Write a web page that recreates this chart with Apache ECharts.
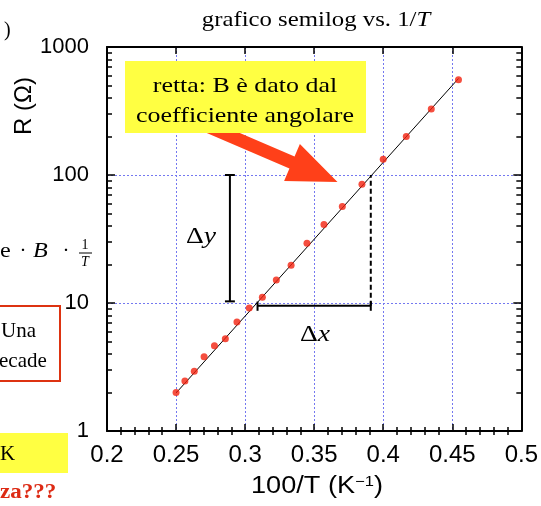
<!DOCTYPE html>
<html>
<head>
<meta charset="utf-8">
<script src="https://cdn.jsdelivr.net/npm/echarts@6/dist/echarts.min.js"></script>
<style>
  html, body { margin: 0; padding: 0; background: #fff; }
  #chart { width: 541px; height: 506px; }
</style>
</head>
<body>
<div id="chart"></div>
<script>
// Inverse temperature, 100/T (K^-1)
const invT = [0.25, 0.2564, 0.2632, 0.2703, 0.2778, 0.2857, 0.2941, 0.3030, 0.3125,
              0.3226, 0.3333, 0.3448, 0.3571, 0.3704, 0.3846, 0.4000, 0.4167, 0.4348, 0.4545];
// Resistance R (Ohm)
const resistance = [2.00, 2.46, 2.93, 3.81, 4.64, 5.26, 7.11, 9.14, 11.1,
                    15.1, 19.7, 29.3, 41.1, 56.7, 84.6, 133, 200, 328, 555];
// Straight-line fit on the semilog plot (end points)
const fitX = [0.25, 0.4545];
const fitY = [1.98, 567];
// Slope construction: delta-y bar, delta-x bar, dashed drop line
const dyX = 0.289, dyY = [10.3, 100];
const dxY = 9.5, dxX = [0.309, 0.391];
const dropX = 0.391, dropY = [9.5, 100];
// Axis ranges and ticks
const xMin = 0.2, xMax = 0.5, xStep = 0.05;
const xMinorTicks = [0.21,0.22,0.23,0.24,0.26,0.27,0.28,0.29,0.31,0.32,0.33,0.34,0.36,0.37,0.38,0.39,
                     0.41,0.42,0.43,0.44,0.46,0.47,0.48,0.49];
const yMin = 1, yMax = 1000;
const yMinorTicks = [2,3,4,5,6,7,8,9,20,30,40,50,60,70,80,90,200,300,400,500,600,700,800,900];

const SANS = '"Liberation Sans", Arial, Helvetica, sans-serif';
const SERIF = '"Liberation Serif", "Times New Roman", serif';
const RED = '#f2220f';

const chart = echarts.init(document.getElementById('chart'));

const gridLine = { show: true, lineStyle: { color: '#7478f0', type: [2, 2], width: 1 } };
const axisLine = { show: true, onZero: false, lineStyle: { color: '#000', width: 2 } };
const tickStyle = { color: '#000', width: 1.5 };

function xAxisDef(pos, labels) {
  return {
    type: 'value', position: pos, min: xMin, max: xMax, interval: xStep,
    axisLine: axisLine,
    axisTick: { show: true, inside: true, length: 7, lineStyle: tickStyle },
    splitLine: pos === 'bottom' ? gridLine : { show: false },
    axisLabel: labels ? {
      show: true, color: '#000', fontFamily: SANS, fontSize: 24, margin: 12,
      formatter: v => String(+v.toFixed(2))
    } : { show: false }
  };
}
// minor tick rows along the x edges
function xMinorDef(pos) {
  return {
    type: 'value', position: pos, min: xMin, max: xMax,
    axisLine: { show: false }, splitLine: { show: false }, axisLabel: { show: false },
    axisTick: { show: true, inside: true, length: 4, customValues: xMinorTicks, lineStyle: tickStyle }
  };
}
function yAxisDef(pos, labels) {
  return {
    type: 'log', logBase: 10, position: pos, min: yMin, max: yMax,
    axisLine: axisLine,
    axisTick: { show: true, inside: true, length: 8, lineStyle: tickStyle },
    splitLine: pos === 'left' ? gridLine : { show: false },
    axisLabel: labels ? {
      show: true, color: '#000', fontFamily: SANS, fontSize: 22, margin: 18,
      formatter: v => String(Math.round(v))
    } : { show: false }
  };
}
// minor tick rows along the log y edges, placed in decades
function yMinorDef(pos) {
  return {
    type: 'value', position: pos, min: Math.log10(yMin), max: Math.log10(yMax),
    axisLine: { show: false }, splitLine: { show: false }, axisLabel: { show: false },
    axisTick: { show: true, inside: true, length: 5, customValues: yMinorTicks.map(Math.log10), lineStyle: tickStyle }
  };
}

function seg(xs, ys, style) {
  return {
    type: 'line', xAxisIndex: 0, yAxisIndex: 0, symbol: 'none', silent: true, z: 4,
    data: [[xs[0], ys[0]], [xs[1], ys[1]]],
    lineStyle: Object.assign({ color: '#000', width: 2 }, style || {})
  };
}

const capW = 0.0036;
const series = [
  {
    type: 'line', name: 'fit', xAxisIndex: 0, yAxisIndex: 0, symbol: 'none', z: 3,
    data: fitX.map((x, i) => [x, fitY[i]]),
    lineStyle: { color: '#000', width: 1 }
  },
  {
    type: 'scatter', name: 'R', xAxisIndex: 0, yAxisIndex: 0, z: 5,
    symbol: 'circle', symbolSize: 7,
    itemStyle: { color: RED },
    data: invT.map((x, i) => [x, resistance[i]])
  },
  // delta-y bar with end caps
  seg([dyX, dyX], dyY),
  seg([dyX - capW, dyX + capW], [dyY[1], dyY[1]]),
  seg([dyX - capW, dyX + capW], [dyY[0], dyY[0]]),
  // delta-x bar with end caps
  seg(dxX, [dxY, dxY]),
  seg([dxX[0], dxX[0]], [dxY * 0.915, dxY * 1.08]),
  seg([dxX[1], dxX[1]], [dxY * 0.915, dxY * 1.08]),
  // dashed drop line from the fit down to the delta-x bar
  seg([dropX, dropX], dropY, { type: [5, 3] })
];

// Arrow geometry (pixels)
const arrow = (() => {
  const B = [292, 162.5], d = [0.919, 0.394], n = [-0.394, 0.919];
  const S = [200, 123], hw = 6.5, hh = 20, hl = 49.5;
  const p = (o, k, v) => [o[0] + k * v[0], o[1] + k * v[1]];
  return [p(S, hw, n), p(B, hw, n), p(B, hh, n), p(B, hl, d), p(B, -hh, n), p(B, -hw, n), p(S, -hw, n)];
})();

const italic = (size) => ({ fontStyle: 'italic', fontSize: size, fontFamily: SERIF });

const graphic = [
  // title
  { type: 'text', x: 316, y: 20, z: 50, scaleX: 1.18,
    style: { text: 'grafico semilog vs. 1/{i|T}', font: '21px ' + SERIF, fill: '#000',
      align: 'center', verticalAlign: 'middle', rich: { i: italic(21) } } },
  // y axis title
  { type: 'text', x: 24, y: 106, rotation: Math.PI / 2, z: 50,
    style: { text: 'R (Ω)', font: '24px ' + SANS, fill: '#000', align: 'center', verticalAlign: 'middle' } },
  // x axis title
  { type: 'text', x: 317, y: 487, z: 50, scaleX: 1.18,
    style: { text: '100/T (K{s|−1})', font: '23px ' + SANS, fill: '#000', align: 'center', verticalAlign: 'middle',
      rich: { s: { fontSize: 14, fontFamily: SANS, verticalAlign: 'top', padding: [0, 0, 10, 0] } } } },
  // arrow
  { type: 'polygon', z: 60, shape: { points: arrow }, style: { fill: '#ff4019' } },
  // annotation box
  { type: 'rect', z: 61, shape: { x: 125, y: 61, width: 241, height: 72 }, style: { fill: '#ffff42' } },
  { type: 'text', x: 245, y: 86, z: 62, scaleX: 1.18,
    style: { text: 'retta: B è dato dal', font: '22px ' + SERIF, fill: '#000', align: 'center', verticalAlign: 'middle' } },
  { type: 'text', x: 245, y: 116, z: 62, scaleX: 1.18,
    style: { text: 'coefficiente angolare', font: '22px ' + SERIF, fill: '#000', align: 'center', verticalAlign: 'middle' } },
  // delta labels
  { type: 'text', x: 201, y: 237, z: 62, scaleX: 1.15,
    style: { text: 'Δ{i|y}', font: '24px ' + SERIF, fill: '#000', align: 'center', verticalAlign: 'middle',
      rich: { i: italic(24) } } },
  { type: 'text', x: 315, y: 335, z: 62, scaleX: 1.15,
    style: { text: 'Δ{i|x}', font: '24px ' + SERIF, fill: '#000', align: 'center', verticalAlign: 'middle',
      rich: { i: italic(24) } } },
  // surrounding slide fragments on the left
  { type: 'text', x: 4, y: 31, z: 50,
    style: { text: ')', font: '20px ' + SERIF, fill: '#000', verticalAlign: 'middle' } },
  { type: 'text', x: 0, y: 251, z: 50, scaleX: 1.15,
    style: { text: 'e', font: '21px ' + SERIF, fill: '#000', verticalAlign: 'middle' } },
  { type: 'text', x: 23, y: 251, z: 50,
    style: { text: '·', font: '21px ' + SERIF, fill: '#000', align: 'center', verticalAlign: 'middle' } },
  { type: 'text', x: 33, y: 251, z: 50, scaleX: 1.15,
    style: { text: 'B', font: 'italic 21px ' + SERIF, fill: '#000', verticalAlign: 'middle' } },
  { type: 'text', x: 66, y: 251, z: 50,
    style: { text: '·', font: '21px ' + SERIF, fill: '#000', align: 'center', verticalAlign: 'middle' } },
  { type: 'text', x: 85, y: 245, z: 50,
    style: { text: '1', font: '14px ' + SERIF, fill: '#000', align: 'center', verticalAlign: 'middle' } },
  { type: 'line', z: 50, shape: { x1: 79, y1: 253, x2: 92, y2: 253 }, style: { stroke: '#000', lineWidth: 1 } },
  { type: 'text', x: 85, y: 262, z: 50,
    style: { text: 'T', font: 'italic 14px ' + SERIF, fill: '#000', align: 'center', verticalAlign: 'middle' } },
  { type: 'rect', z: 50, shape: { x: -5, y: 306, width: 65, height: 75 },
    style: { fill: '#fff', stroke: '#dd3311', lineWidth: 2 } },
  { type: 'text', x: 1, y: 331, z: 51,
    style: { text: 'Una', font: '21px ' + SERIF, fill: '#000', verticalAlign: 'middle' } },
  { type: 'text', x: -1, y: 361, z: 51,
    style: { text: 'ecade', font: '21px ' + SERIF, fill: '#000', verticalAlign: 'middle' } },
  { type: 'rect', z: 50, shape: { x: -2, y: 433, width: 70, height: 40 }, style: { fill: '#ffff42' } },
  { type: 'text', x: 0, y: 454, z: 51,
    style: { text: 'K', font: '21px ' + SERIF, fill: '#000', verticalAlign: 'middle' } },
  { type: 'text', x: 0, y: 493, z: 51, scaleX: 1.15,
    style: { text: 'za???', font: 'bold 20px ' + SERIF, fill: '#dd2a14', verticalAlign: 'middle' } }
];

chart.setOption({
  animation: false,
  backgroundColor: '#fff',
  grid: { left: 107, top: 47, width: 418, height: 384, containLabel: false },
  xAxis: [xAxisDef('bottom', true), xAxisDef('top', false), xMinorDef('bottom'), xMinorDef('top')],
  yAxis: [yAxisDef('left', true), yAxisDef('right', false), yMinorDef('left'), yMinorDef('right')],
  series: series,
  graphic: graphic
});
</script>
</body>
</html>
